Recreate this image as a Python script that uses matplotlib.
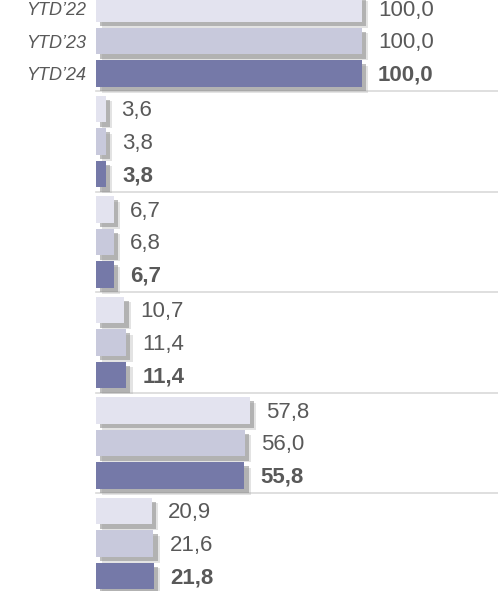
import matplotlib
matplotlib.use("Agg")
import matplotlib.pyplot as plt
import matplotlib.patheffects as pe

series = ["YTD’22", "YTD’23", "YTD’24"]
group_values = [
    [100.0, 100.0, 100.0],
    [3.6, 3.8, 3.8],
    [6.7, 6.8, 6.7],
    [10.7, 11.4, 11.4],
    [57.8, 56.0, 55.8],
    [20.9, 21.6, 21.8],
]
colors = ["#e3e3ef", "#c8c9dc", "#7579a8"]

plt.rcParams["font.family"] = ["Liberation Sans", "DejaVu Sans"]

W, H = 498, 591
fig = plt.figure(figsize=(W / 100, H / 100), dpi=100)
ax = fig.add_axes([0, 0, 1, 1])

P = 32.5          # px per row unit
G = 100.5 / P     # group pitch in row units
bar_h = 0.83

px_per_val = 2.66
ax.set_xlim(-96 / px_per_val, (W - 96) / px_per_val)
top = -8.5 / P
ax.set_ylim(top + H / P, top)

shadow = [
    pe.SimplePatchShadow(offset=(4.5, -4), shadow_rgbFace="#b0b0b0", alpha=0.35),
    pe.SimplePatchShadow(offset=(3, -3), shadow_rgbFace="#8a8a8a", alpha=0.55),
    pe.Normal(),
]

for g, vals in enumerate(group_values):
    for k, v in enumerate(vals):
        y = g * G + k
        b = ax.barh(y, v, height=bar_h, color=colors[k], left=0, zorder=3)
        for p in b.patches:
            p.set_path_effects(shadow)
        ax.annotate(f"{v:.1f}".replace(".", ","), (v, y), xytext=(11.5, -1.2),
                    textcoords="offset points", va="center", ha="left",
                    fontsize=16, color="#595959",
                    fontweight="bold" if k == 2 else "normal", zorder=4)
        if g == 0:
            ax.annotate(series[k], (0, y), xytext=(-7, -1.5),
                        textcoords="offset points", va="center", ha="right",
                        fontsize=13, style="italic", color="#595959")
    if g < len(group_values) - 1:
        ysep = g * G + 2 + (G - 2) / 2
        ax.plot([0, ax.get_xlim()[1]], [ysep, ysep], color="#d9d9d9",
                lw=1.2, zorder=1)

ax.axis("off")
fig.savefig("out.png", dpi=100)
